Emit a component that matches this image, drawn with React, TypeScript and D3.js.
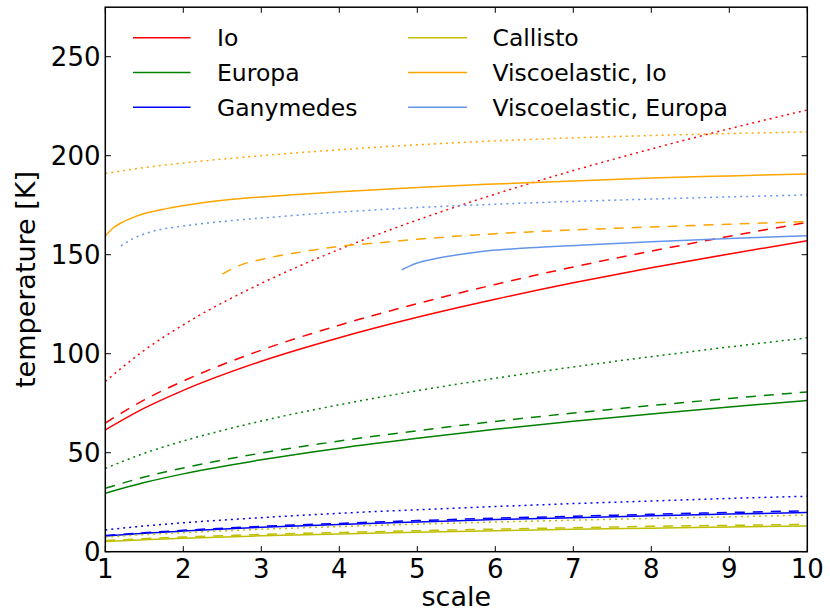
import React from "react";
import * as d3 from "d3";

const xTicks = [1, 2, 3, 4, 5, 6, 7, 8, 9, 10];
const yTicks = [0, 50, 100, 150, 200, 250];

const xs = [1, 1.5, 2, 3, 4, 5, 6, 7, 8, 9, 10];

const ioSolid = [61.5, 72.5, 81.5, 96.2, 108.1, 118.4, 127.5, 135.8, 143.4, 150.4, 157.0];
const ioDashed = [65, 76.7, 86.2, 101.8, 114.4, 125.3, 135.0, 143.8, 151.8, 159.3, 166.3];
const ioDotted = [86, 101.7, 114.6, 135.5, 152.7, 167.5, 180.6, 192.5, 203.4, 213.6, 223.1];

const euSolid = [29.5, 34.9, 39.3, 46.4, 52.3, 57.3, 61.8, 65.9, 69.6, 73.1, 76.4];
const euDashed = [32, 37.7, 42.3, 49.8, 55.9, 61.1, 65.8, 70.0, 73.8, 77.4, 80.7];
const euDotted = [42.1, 49.7, 55.9, 66.0, 74.2, 81.3, 87.6, 93.3, 98.5, 103.4, 108.0];

const gaSolid = [7.9, 9.3, 10.4, 12.3, 13.8, 15.0, 16.2, 17.2, 18.1, 19.0, 19.8];
const gaDashed = [8.2, 9.6, 10.8, 12.8, 14.3, 15.7, 16.9, 17.9, 18.9, 19.8, 20.7];
const gaDotted = [11, 13.0, 14.6, 17.2, 19.4, 21.2, 22.8, 24.3, 25.6, 26.9, 28.0];

const caSolid = [5.1, 6.0, 6.8, 8.0, 9.0, 9.8, 10.6, 11.3, 11.9, 12.5, 13.0];
const caDashed = [5.6, 6.6, 7.4, 8.7, 9.7, 10.6, 11.4, 12.1, 12.8, 13.3, 13.8];
const caDotted = [7.3, 8.6, 9.6, 11.3, 12.7, 13.9, 15.0, 15.9, 16.8, 17.6, 18.5];

const vioSolidX = [1, 1.1, 1.2, 1.4, 1.8, 2.2, 3, 3.5, 4, 5, 6, 7, 8, 9, 10];
const vioSolid = [159.5, 163.5, 166, 169.5, 173.4, 176, 179.2, 180.5, 181.8, 184, 185.7, 187.2, 188.7, 189.8, 190.8];
const vioDashedX = [2.5, 2.6, 2.75, 3, 3.5, 4, 4.5, 5, 6, 7, 8, 9, 10];
const vioDashed = [140.2, 142.3, 145, 147.6, 151.3, 154.2, 156, 157.8, 160.6, 162.5, 164, 165.4, 166.7];
const vioDottedX = [1, 1.5, 2, 3, 4, 5, 6, 7, 8, 9, 10];
const vioDotted = [191, 194, 196.3, 200, 203, 205.5, 207.5, 209, 210.2, 211.2, 212];

const veuSolidX = [4.8, 4.9, 5, 5.2, 5.4, 5.8, 6.44, 7.08, 8, 9, 10];
const veuSolid = [142.3, 144.2, 145.8, 147.7, 149.2, 151.5, 153.5, 154.8, 156.6, 158.2, 159.6];
const veuDottedX = [1.2, 1.35, 1.6, 2, 2.5, 3, 4, 5, 6, 7, 8, 9, 10];
const veuDotted = [154.5, 158, 161.7, 164.5, 166.8, 168.5, 171.5, 173.8, 175.5, 176.9, 178.1, 179.2, 180.2];

const names = ["Io", "Europa", "Ganymedes", "Callisto", "Viscoelastic, Io", "Viscoelastic, Europa"];
const colors = ["#ff0000", "#008000", "#0000ff", "#bfbf00", "#ffa500", "#6495ed"];

const DASH = "10,8";
const DOT = "2,4";

type Series = { xs: number[]; ys: number[]; color: string; dash: string | null };

const series: Series[] = [
  { xs, ys: ioSolid, color: colors[0], dash: null },
  { xs, ys: ioDashed, color: colors[0], dash: DASH },
  { xs, ys: ioDotted, color: colors[0], dash: DOT },
  { xs, ys: euSolid, color: colors[1], dash: null },
  { xs, ys: euDashed, color: colors[1], dash: DASH },
  { xs, ys: euDotted, color: colors[1], dash: DOT },
  { xs, ys: gaSolid, color: colors[2], dash: null },
  { xs, ys: gaDashed, color: colors[2], dash: DASH },
  { xs, ys: gaDotted, color: colors[2], dash: DOT },
  { xs, ys: caSolid, color: colors[3], dash: null },
  { xs, ys: caDashed, color: colors[3], dash: DASH },
  { xs, ys: caDotted, color: colors[3], dash: DOT },
  { xs: vioSolidX, ys: vioSolid, color: colors[4], dash: null },
  { xs: vioDashedX, ys: vioDashed, color: colors[4], dash: DASH },
  { xs: vioDottedX, ys: vioDotted, color: colors[4], dash: DOT },
  { xs: veuSolidX, ys: veuSolid, color: colors[5], dash: null },
  { xs: veuDottedX, ys: veuDotted, color: colors[5], dash: DOT },
];

const W = 830;
const H = 614;
const L = 105.3;
const R = 807.3;
const T = 7.2;
const B = 551.7;
const FONT = "DejaVu Sans, Verdana, sans-serif";

export default function App() {
  const x = d3.scaleLinear().domain([1, 10]).range([L, R]);
  const y = d3.scaleLinear().domain([0, 275]).range([B, T]);
  const line = d3
    .line<[number, number]>()
    .x((d) => x(d[0]))
    .y((d) => y(d[1]))
    .curve(d3.curveMonotoneX);

  const tickLen = 5.6;
  const legendRowsY = [37.8, 72.6, 107.3];
  const legendCols = [
    { x1: 133, x2: 190.5, tx: 217 },
    { x1: 408, x2: 467, tx: 492.5 },
  ];

  return (
    <svg
      width={W}
      height={H}
      style={{ position: "absolute", left: 0, top: 0, background: "#fff" }}
      fontFamily={FONT}
    >
      <rect x={0} y={0} width={W} height={H} fill="#fff" />
      <defs>
        <clipPath id="plotclip">
          <rect x={L} y={T} width={R - L} height={B - T} />
        </clipPath>
      </defs>
      <g clipPath="url(#plotclip)">
        {series.map((s, i) => (
          <path
            key={i}
            d={line(s.xs.map((v, j) => [v, s.ys[j]] as [number, number])) || ""}
            fill="none"
            stroke={s.color}
            strokeWidth={1.5}
            strokeDasharray={s.dash || undefined}
          />
        ))}
      </g>
      {/* ticks */}
      {xTicks.map((t) => (
        <g key={"xt" + t}>
          <line x1={x(t)} x2={x(t)} y1={B} y2={B - tickLen} stroke="#000" strokeWidth={1} />
          <line x1={x(t)} x2={x(t)} y1={T} y2={T + tickLen} stroke="#000" strokeWidth={1} />
          <text x={x(t)} y={578} fontSize={26} textAnchor="middle" fill="#000">
            {t}
          </text>
        </g>
      ))}
      {yTicks.map((t) => (
        <g key={"yt" + t}>
          <line x1={L} x2={L + tickLen} y1={y(t)} y2={y(t)} stroke="#000" strokeWidth={1} />
          <line x1={R} x2={R - tickLen} y1={y(t)} y2={y(t)} stroke="#000" strokeWidth={1} />
          <text x={100.5} y={y(t) + 9.3} fontSize={26} textAnchor="end" fill="#000">
            {t}
          </text>
        </g>
      ))}
      <rect x={L} y={T} width={R - L} height={B - T} fill="none" stroke="#000" strokeWidth={1.5} />
      {/* axis labels */}
      <text x={(L + R) / 2} y={606} fontSize={27} textAnchor="middle" fill="#000">
        scale
      </text>
      <text
        transform={`translate(35,${(T + B) / 2}) rotate(-90)`}
        fontSize={27}
        textAnchor="middle"
        fill="#000"
      >
        temperature [K]
      </text>
      {/* legend */}
      {names.map((n, i) => {
        const col = legendCols[Math.floor(i / 3)];
        const ry = legendRowsY[i % 3];
        return (
          <g key={n}>
            <line x1={col.x1} x2={col.x2} y1={ry} y2={ry} stroke={colors[i]} strokeWidth={1.5} />
            <text x={col.tx} y={ry + 8.6} fontSize={23.5} fill="#000">
              {n}
            </text>
          </g>
        );
      })}
    </svg>
  );
}
